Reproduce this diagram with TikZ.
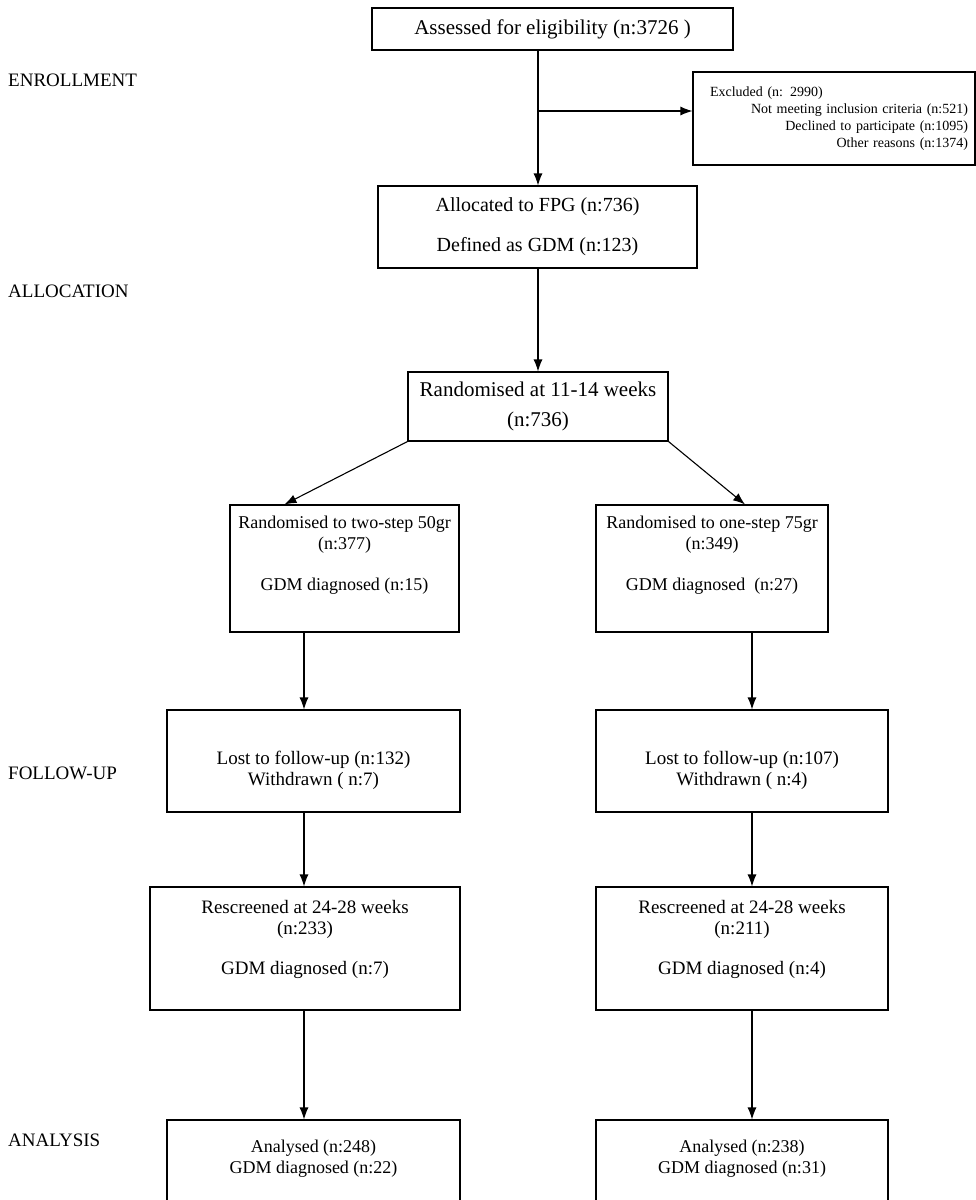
\documentclass[tikz,border=0pt]{standalone}
\usepackage{fontspec}
\setmainfont{Liberation Serif}
\usetikzlibrary{arrows.meta}
\tikzset{
  box/.style={draw, line width=1.1pt, align=center, inner sep=0pt,
    font=\fontsize{18}{21}\selectfont},
  stage/.style={anchor=west, inner sep=0pt, font=\fontsize{19}{21}\selectfont},
  flow/.style={-{Latex[length=12pt,width=9pt]}, line width=1.1pt},
}
\begin{document}
\begin{tikzpicture}[x=1pt,y=-1pt]
                    \useasboundingbox (0,0) rectangle (976,1200);
                    \clip (0,0) rectangle (976,1200);

                    % stages
                    \node[stage] (enrol) at (8,80) {ENROLLMENT};
                    \node[stage] (allocation) at (8,291) {ALLOCATION};
                    \node[stage] (followup) at (8,773) {FOLLOW-UP};
                    \node[stage] (analysis) at (8,1140) {ANALYSIS};

                    % boxes
                    \node[box, minimum width=361, minimum height=42, font=\fontsize{21}{21}\selectfont] (assess) at (552.5,29) {Assessed for eligibility (n:3726 )};
                    \node[box, minimum width=282, minimum height=93, text width=268, align=right,
                      font=\fontsize{14}{17}\selectfont] (excl) at (834,118.5)
                      {\makebox[268pt][l]{\hspace{10pt}Excluded (n: 2990)}\\Not meeting inclusion criteria (n:521)\\Declined to participate (n:1095)\\Other reasons (n:1374)};
                    \node[box, minimum width=319, minimum height=82, font=\fontsize{20}{21}\selectfont] (alloc) at (537.5,227) {Allocated to FPG (n:736)\\[19pt]Defined as GDM (n:123)};
                    \node[box, minimum width=260, minimum height=69, font=\fontsize{21}{30}\selectfont] (rand) at (538,406.5) {Randomised at 11-14 weeks\\(n:736)};

                    \node[box, minimum width=229, minimum height=127, text depth=30pt] (twostep) at (344.5,568.5) {Randomised to two-step 50gr\\(n:377)\\[20pt]GDM diagnosed (n:15)};
                    \node[box, minimum width=232, minimum height=127, text depth=30pt] (onestep) at (712,568.5) {Randomised to one-step 75gr\\(n:349)\\[20pt]GDM diagnosed\ \ (n:27)};

                    \node[box, minimum width=293, minimum height=102, font=\fontsize{19}{21}\selectfont] (lostL) at (313.5,761) {\rule{0pt}{33pt}Lost to follow-up (n:132)\\Withdrawn ( n:7)};
                    \node[box, minimum width=292, minimum height=102, font=\fontsize{19}{21}\selectfont] (lostR) at (742,761) {\rule{0pt}{33pt}Lost to follow-up (n:107)\\Withdrawn ( n:4)};

                    \node[box, minimum width=310, minimum height=123, text depth=22pt, font=\fontsize{19}{21}\selectfont] (rescrL) at (305,948.5) {Rescreened at 24-28 weeks\\(n:233)\\[19pt]GDM diagnosed (n:7)};
                    \node[box, minimum width=292, minimum height=123, text depth=22pt, font=\fontsize{19}{21}\selectfont] (rescrR) at (742,948.5) {Rescreened at 24-28 weeks\\(n:211)\\[19pt]GDM diagnosed (n:4)};

                    \node[box, minimum width=293, minimum height=100, text depth=26pt] (analL) at (313.5,1170) {Analysed (n:248)\\GDM diagnosed (n:22)};
                    \node[box, minimum width=292, minimum height=100, text depth=26pt] (analR) at (742,1170) {Analysed (n:238)\\GDM diagnosed (n:31)};

                    % arrows
                    \coordinate (split) at (538,111);
                    \coordinate (colL) at (304,0);
                    \coordinate (colR) at (752,0);
                    \draw[flow] (assess.south -| split) -- (alloc.north -| split);
                    \draw[flow] (split) -- (split -| excl.west);
                    \draw[flow] (alloc.south -| split) -- (rand.north -| split);
                    \draw[flow] (rand.south west) -- ([xshift=55pt]twostep.north west);
                    \draw[flow] (rand.south east) -- ([xshift=33pt]onestep.north);
                    \draw[flow] (twostep.south -| colL) -- (lostL.north -| colL);
                    \draw[flow] (onestep.south -| colR) -- (lostR.north -| colR);
                    \draw[flow] (lostL.south -| colL) -- (rescrL.north -| colL);
                    \draw[flow] (lostR.south -| colR) -- (rescrR.north -| colR);
                    \draw[flow] (rescrL.south -| colL) -- (analL.north -| colL);
                    \draw[flow] (rescrR.south -| colR) -- (analR.north -| colR);

\end{tikzpicture}
\end{document}
